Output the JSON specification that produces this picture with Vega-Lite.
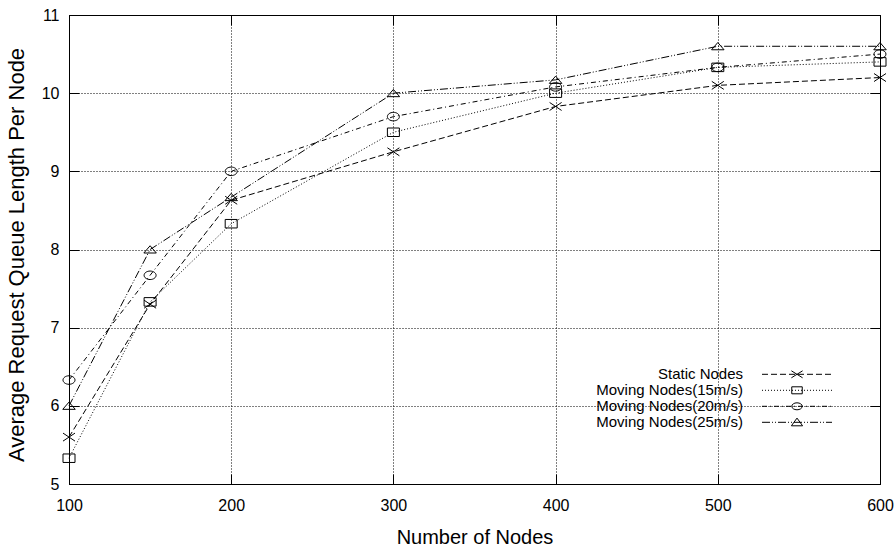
{
  "$schema": "https://vega.github.io/schema/vega-lite/v6.json",
  "width": 811,
  "height": 469,
  "autosize": "none",
  "padding": {"left": 69, "top": 15, "right": 15, "bottom": 63},
  "background": "white",
  "config": {
    "view": {"stroke": "black", "strokeWidth": 1},
    "font": "Liberation Sans",
    "axis": {
      "labelFont": "Liberation Sans",
      "titleFont": "Liberation Sans",
      "labelColor": "black",
      "titleColor": "black",
      "labelFontSize": 16,
      "titleFontSize": 20,
      "titleFontWeight": "normal",
      "labelFlush": false,
      "gridColor": "black",
      "gridDash": [1, 2],
      "gridOpacity": 1,
      "gridWidth": 1,
      "domain": false,
      "ticks": true,
      "tickColor": "black",
      "tickSize": -10,
      "tickWidth": 1
    },
    "legend": {
      "labelFont": "Liberation Sans",
      "labelFontSize": 15,
      "labelColor": "black",
      "labelAlign": "right",
      "labelOffset": -61.5,
      "symbolSize": 196,
      "symbolStrokeWidth": 1,
      "symbolStrokeColor": "black",
      "rowPadding": 0
    }
  },
  "data": {
    "values": [
      {"series": "Static Nodes", "nodes": 100, "value": 5.6},
      {"series": "Static Nodes", "nodes": 150, "value": 7.3},
      {"series": "Static Nodes", "nodes": 200, "value": 8.63},
      {"series": "Static Nodes", "nodes": 300, "value": 9.25},
      {"series": "Static Nodes", "nodes": 400, "value": 9.83},
      {"series": "Static Nodes", "nodes": 500, "value": 10.1},
      {"series": "Static Nodes", "nodes": 600, "value": 10.2},
      {"series": "Moving Nodes(15m/s)", "nodes": 100, "value": 5.33},
      {"series": "Moving Nodes(15m/s)", "nodes": 150, "value": 7.33},
      {"series": "Moving Nodes(15m/s)", "nodes": 200, "value": 8.33},
      {"series": "Moving Nodes(15m/s)", "nodes": 300, "value": 9.5},
      {"series": "Moving Nodes(15m/s)", "nodes": 400, "value": 10.0},
      {"series": "Moving Nodes(15m/s)", "nodes": 500, "value": 10.33},
      {"series": "Moving Nodes(15m/s)", "nodes": 600, "value": 10.4},
      {"series": "Moving Nodes(20m/s)", "nodes": 100, "value": 6.33},
      {"series": "Moving Nodes(20m/s)", "nodes": 150, "value": 7.67},
      {"series": "Moving Nodes(20m/s)", "nodes": 200, "value": 9.0},
      {"series": "Moving Nodes(20m/s)", "nodes": 300, "value": 9.7},
      {"series": "Moving Nodes(20m/s)", "nodes": 400, "value": 10.08},
      {"series": "Moving Nodes(20m/s)", "nodes": 500, "value": 10.33},
      {"series": "Moving Nodes(20m/s)", "nodes": 600, "value": 10.5},
      {"series": "Moving Nodes(25m/s)", "nodes": 100, "value": 6.0},
      {"series": "Moving Nodes(25m/s)", "nodes": 150, "value": 8.0},
      {"series": "Moving Nodes(25m/s)", "nodes": 200, "value": 8.67},
      {"series": "Moving Nodes(25m/s)", "nodes": 300, "value": 10.0},
      {"series": "Moving Nodes(25m/s)", "nodes": 400, "value": 10.17},
      {"series": "Moving Nodes(25m/s)", "nodes": 500, "value": 10.6},
      {"series": "Moving Nodes(25m/s)", "nodes": 600, "value": 10.6}
    ]
  },
  "layer": [
    {
      "mark": {"type": "line", "color": "black", "strokeWidth": 1},
      "encoding": {
        "x": {
          "field": "nodes",
          "type": "quantitative",
          "scale": {"domain": [100, 600], "nice": false, "zero": false},
          "axis": {
            "values": [100, 200, 300, 400, 500, 600],
            "grid": true,
            "labelPadding": 23,
            "title": "Number of Nodes",
            "titleY": 59,
            "titleBaseline": "alphabetic"
          }
        },
        "y": {
          "field": "value",
          "type": "quantitative",
          "scale": {"domain": [5, 11], "nice": false, "zero": false},
          "axis": {
            "values": [5, 6, 7, 8, 9, 10, 11],
            "grid": true,
            "labelPadding": 20,
            "title": "Average Request Queue Length Per Node",
            "titleFontSize": 22,
            "titleX": -45.5,
            "titleY": 239.5,
            "titleAlign": "center",
            "titleBaseline": "alphabetic",
            "titleAngle": -90
          }
        },
        "strokeDash": {
          "field": "series",
          "type": "nominal",
          "scale": {
            "domain": ["Static Nodes", "Moving Nodes(15m/s)", "Moving Nodes(20m/s)", "Moving Nodes(25m/s)"],
            "range": [[6, 3], [1, 2], [5, 3, 1, 3], [8, 2, 1, 2, 1, 2]]
          },
          "legend": null
        }
      }
    },
    {
      "mark": {"type": "point", "filled": false, "color": "black", "strokeWidth": 1, "size": 100, "opacity": 1},
      "encoding": {
        "x": {
          "field": "nodes",
          "type": "quantitative",
          "scale": {"domain": [100, 600], "nice": false, "zero": false},
          "axis": {
            "orient": "top",
            "values": [100, 200, 300, 400, 500, 600],
            "grid": false,
            "labels": false,
            "title": null
          }
        },
        "y": {
          "field": "value",
          "type": "quantitative",
          "scale": {"domain": [5, 11], "nice": false, "zero": false},
          "axis": {
            "orient": "right",
            "values": [5, 6, 7, 8, 9, 10, 11],
            "grid": false,
            "labels": false,
            "title": null
          }
        },
        "shape": {
          "field": "series",
          "type": "nominal",
          "scale": {
            "domain": ["Static Nodes", "Moving Nodes(15m/s)", "Moving Nodes(20m/s)", "Moving Nodes(25m/s)"],
            "range": [
              "M-1.2,-0.8L1.2,0.8M-1.2,0.8L1.2,-0.8",
              "M-1.2,-0.85L1.2,-0.85L1.2,0.85L-1.2,0.85Z",
              "M-1.2,0A1.2,0.85,0,1,0,1.2,0A1.2,0.85,0,1,0,-1.2,0Z",
              "M-1.25,0.7L1.25,0.7L0,-0.75Z"
            ]
          },
          "legend": null
        }
      }
    },
    {
      "transform": [{"filter": "false"}],
      "mark": {"type": "point", "filled": false, "color": "black", "strokeWidth": 1, "opacity": 1},
      "encoding": {
        "x": {
          "field": "nodes",
          "type": "quantitative",
          "scale": {"domain": [100, 600], "nice": false, "zero": false},
          "axis": null
        },
        "y": {
          "field": "value",
          "type": "quantitative",
          "scale": {"domain": [5, 11], "nice": false, "zero": false},
          "axis": null
        },
        "shape": {
          "field": "series",
          "type": "nominal",
          "scale": {
            "domain": ["Static Nodes", "Moving Nodes(15m/s)", "Moving Nodes(20m/s)", "Moving Nodes(25m/s)"],
            "range": [
              "M-5,0L-4.143,0M-3.714,0L-2.857,0M-2.429,0L-1.571,0M-1.143,0L-0.286,0M0.143,0L1,0M1.429,0L2.286,0M2.714,0L3.571,0M4,0L4.857,0M-0.8,-0.5L0.8,0.5M-0.8,0.5L0.8,-0.5",
              "M-5,0L-4.857,0M-4.571,0L-4.429,0M-4.143,0L-4,0M-3.714,0L-3.571,0M-3.286,0L-3.143,0M-2.857,0L-2.714,0M-2.429,0L-2.286,0M-2,0L-1.857,0M-1.571,0L-1.429,0M-1.143,0L-1,0M-0.714,0L-0.571,0M-0.286,0L-0.143,0M0.143,0L0.286,0M0.571,0L0.714,0M1,0L1.143,0M1.429,0L1.571,0M1.857,0L2,0M2.286,0L2.429,0M2.714,0L2.857,0M3.143,0L3.286,0M3.571,0L3.714,0M4,0L4.143,0M4.429,0L4.571,0M4.857,0L5,0M-0.75,-0.5L0.75,-0.5L0.75,0.5L-0.75,0.5Z",
              "M-5,0L-4.286,0M-3.857,0L-3.714,0M-3.286,0L-2.571,0M-2.143,0L-2,0M-1.571,0L-0.857,0M-0.429,0L-0.286,0M0.143,0L0.857,0M1.286,0L1.429,0M1.857,0L2.571,0M3,0L3.143,0M3.571,0L4.286,0M4.714,0L4.857,0M-0.75,0A0.75,0.5,0,1,0,0.75,0A0.75,0.5,0,1,0,-0.75,0Z",
              "M-5,0L-3.857,0M-3.571,0L-3.429,0M-3.143,0L-3,0M-2.714,0L-1.571,0M-1.286,0L-1.143,0M-0.857,0L-0.714,0M-0.429,0L0.714,0M1,0L1.143,0M1.429,0L1.571,0M1.857,0L3,0M3.286,0L3.429,0M3.714,0L3.857,0M4.143,0L5,0M-0.8,0.5L0.8,0.5L0,-0.6Z"
            ]
          },
          "legend": {
            "title": null,
            "orient": "none",
            "legendX": 720.5,
            "legendY": 351.8
          }
        }
      }
    }
  ],
  "resolve": {
    "scale": {"shape": "independent"},
    "axis": {"x": "independent", "y": "independent"}
  }
}
